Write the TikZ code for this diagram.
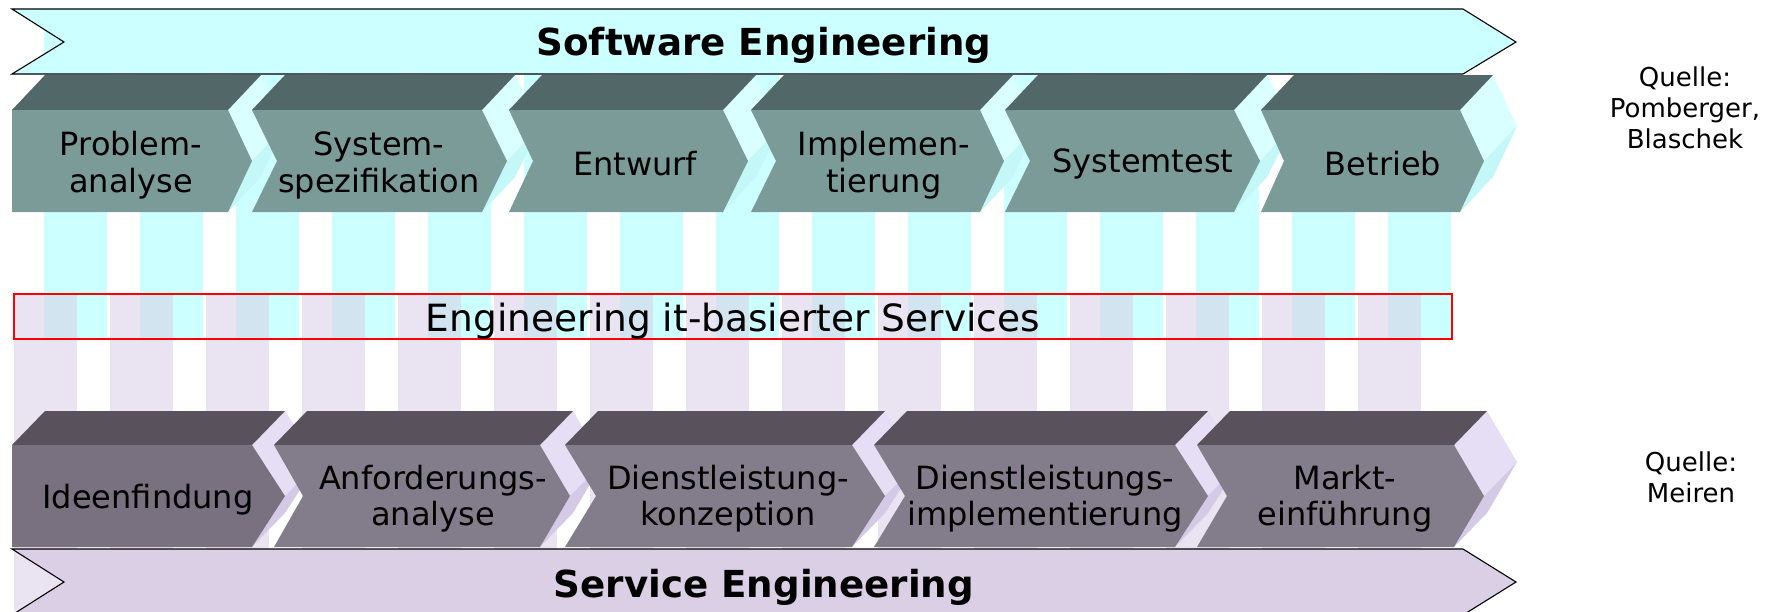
\documentclass[tikz,border=0pt]{standalone}
\usepackage{fontspec}
\setmainfont{DejaVu Sans}
\definecolor{cyanbg}{HTML}{CCFFFF}
\definecolor{lavstripe}{RGB}{217,206,231}
\definecolor{tfrontc}{HTML}{7B9B99}
\definecolor{ttopc}{HTML}{526767}
\definecolor{tsideupc}{HTML}{D9FFFF}
\definecolor{tsideloc}{HTML}{C4F7F7}
\definecolor{bfrontc}{HTML}{837D8B}
\definecolor{bfrontdarkc}{HTML}{797080}
\definecolor{btopc}{HTML}{59525D}
\definecolor{bsideupc}{HTML}{E6DEF4}
\definecolor{bsidelo}{HTML}{D5CAE5}
\definecolor{bannerlav}{HTML}{DBCFE6}
\tikzset{
  cyanstripe/.style={fill=cyanbg},
  lavstripestyle/.style={fill=lavstripe, fill opacity=0.55},
  banner/.style={draw=black, line width=1.1pt},
  tsideup/.style={fill=tsideupc},
  tsidelo/.style={fill=tsideloc},
  ttop/.style={fill=ttopc},
  tfront/.style={fill=tfrontc},
  bsideup/.style={fill=bsideupc},
  bsidelow/.style={fill=bsidelo},
  btop/.style={fill=btopc},
  bfront/.style={fill=bfrontc},
  bfrontdark/.style={fill=bfrontdarkc},
  toplabel/.style={align=center, font=\fontsize{32}{37}\selectfont, text=black, inner sep=0pt},
  botlabel/.style={align=center, font=\fontsize{32}{36}\selectfont, text=black, inner sep=0pt},
  bannerlabel/.style={font=\fontsize{37.2}{40}\selectfont\bfseries, text=black, inner sep=0pt},
  quelle/.style={align=center, font=\fontsize{26}{31}\selectfont, text=black, inner sep=0pt}
}
% top-row chevron: #1 left, #2 notch, #3 right, #4 tip
\newcommand\topchev[4]{%
  \fill[tsideup] (#3,110) -- ({#3+33},75) -- ({#4+33},126) -- (#4,161) -- cycle;
  \fill[tsidelo] (#4,161) -- ({#4+33},126) -- ({#3+33},177) -- (#3,212) -- cycle;
  \fill[ttop] (#1,110) -- ({#1+33},75) -- ({#3+33},75) -- (#3,110) -- cycle;
  \fill[tfront] (#1,110) -- (#3,110) -- (#4,161) -- (#3,212) -- (#1,212) -- (#2,161) -- cycle;
}
% bottom-row chevron: #1 left, #2 notch, #3 right, #4 tip, #5 front style
\newcommand\botchev[5]{%
  \fill[bsideup] (#3,445) -- ({#3+33},411) -- ({#4+33},462) -- (#4,496) -- cycle;
  \fill[bsidelow] (#4,496) -- ({#4+33},462) -- ({#3+33},513) -- (#3,547) -- cycle;
  \fill[btop] (#1,445) -- ({#1+33},411) -- ({#3+33},411) -- (#3,445) -- cycle;
  \fill[#5] (#1,445) -- (#3,445) -- (#4,496) -- (#3,547) -- (#1,547) -- (#2,496) -- cycle;
}
\begin{document}
\begin{tikzpicture}[x=1pt,y=-1pt]
\useasboundingbox (0,0) rectangle (1773,611);
\clip (0,0) rectangle (1773,611);
% stripes
\foreach \k in {0,...,14}{
  \fill[cyanstripe] ({44+96*\k},9) rectangle ({107+96*\k},339);
}
\foreach \k in {0,...,14}{
  \fill[lavstripestyle] ({14+96*\k},294) rectangle ({77+96*\k},611);
}
% middle box
\node[draw=red, line width=1.6pt, minimum width=1438pt, minimum height=45pt, inner sep=0pt] (ebs) at (733,316.5) {};
\node[font=\fontsize{37.5}{40}\selectfont, inner sep=0pt] (ebstext) at (733,321) {Engineering it-basierter Services};
% top chevrons
\topchev{12}{12}{228}{252}
\topchev{252}{277}{482}{507}
\topchev{509}{533}{723}{748}
\topchev{751}{776}{980}{1004}
\topchev{1005}{1030}{1234}{1260}
\topchev{1261}{1284}{1460}{1484}
\node[toplabel] (c1) at (131,165) {Problem-\\analyse};
\node[toplabel] (c2) at (379,165) {System-\\spezifikation};
\node[toplabel] (c3) at (635,164) {Entwurf};
\node[toplabel] (c4) at (884,165) {Implemen-\\tierung};
\node[toplabel] (c5) at (1143,164) {Systemtest};
\node[toplabel] (c6) at (1383,164) {Betrieb};
% bottom chevrons
\botchev{12}{12}{252}{285}{bfrontdark}
\botchev{274}{303}{540}{570}{bfront}
\botchev{565}{596}{852}{885}{bfront}
\botchev{874}{905}{1175}{1208}{bfront}
\botchev{1197}{1227}{1454}{1484}{bfront}
\node[botlabel] (d1) at (148,500) {Ideenfindung};
\node[botlabel] (d2) at (433,499) {Anforderungs-\\analyse};
\node[botlabel] (d3) at (728,499) {Dienstleistung-\\konzeption};
\node[botlabel] (d4) at (1045,499) {Dienstleistungs-\\implementierung};
\node[botlabel] (d5) at (1345,499) {Markt-\\einführung};
% banners
\filldraw[banner, fill=cyanbg] (12,9) -- (1463,9) -- (1516,42) -- (1463,74) -- (12,74) -- (64,42) -- cycle;
\node[bannerlabel] (sw) at (764,45) {Software Engineering};
\filldraw[banner, fill=bannerlav] (12,549) -- (1463,549) -- (1516,582) -- (1463,615) -- (12,615) -- (64,582) -- cycle;
\node[bannerlabel] (se) at (764,587) {Service Engineering};
% sources
\node[quelle] (q1) at (1685,108) {Quelle:\\Pomberger,\\Blaschek};
\node[quelle] (q2) at (1691,477) {Quelle:\\Meiren};
\end{tikzpicture}
\end{document}
